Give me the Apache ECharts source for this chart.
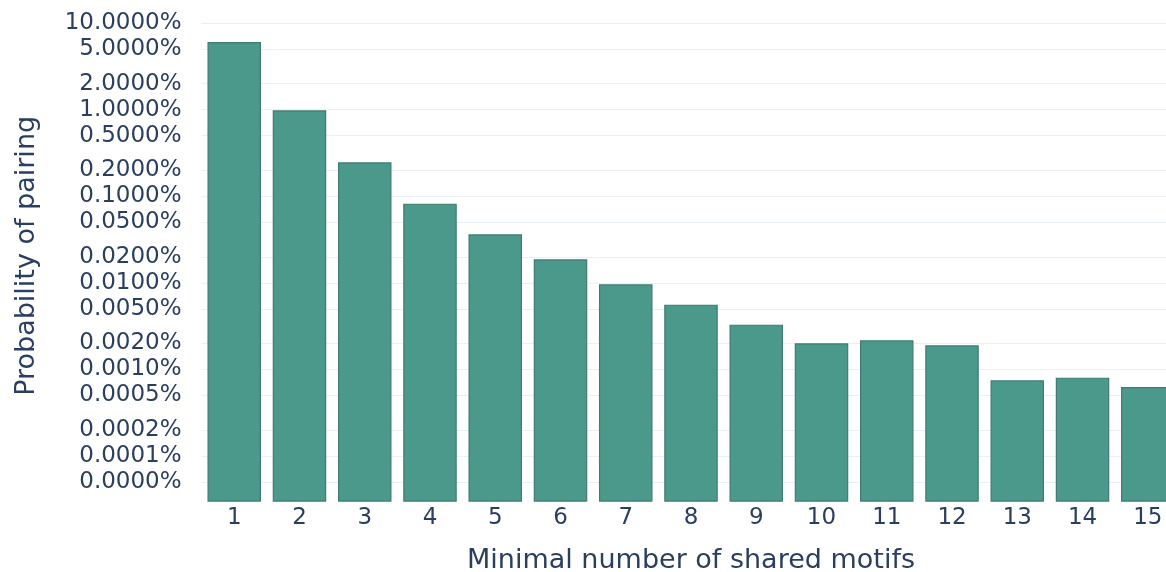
<!DOCTYPE html>
<html>
<head>
<meta charset="utf-8">
<title>Probability of pairing by shared motifs</title>
<script src="https://cdn.jsdelivr.net/npm/echarts@6/dist/echarts.min.js"></script>
<style>
  html, body { margin: 0; padding: 0; background: #ffffff; }
  #chart { width: 1166px; height: 572px; }
</style>
</head>
<body>
<div id="chart"></div>
<script>
// Minimal number of shared motifs (x categories)
const categories = ['1', '2', '3', '4', '5', '6', '7', '8', '9', '10', '11', '12', '13', '14', '15'];

// Probability of pairing, as a fraction (plotted on a log scale)
const probability = [
  0.0604, 0.00981, 0.00246, 0.000821, 0.000363, 0.000187, 0.0000961, 0.0000560,
  0.0000329, 0.0000200, 0.0000217, 0.0000190, 0.00000748, 0.00000804, 0.00000626
];

// Log-axis tick positions (fractions) and their printed labels
const tickValues = [
  0.1, 0.05, 0.02, 0.01, 0.005, 0.002, 0.001, 0.0005, 0.0002, 0.0001,
  0.00005, 0.00002, 0.00001, 0.000005, 0.000002, 0.000001, 0.0000005
];
const tickLabels = [
  '10.0000%', '5.0000%', '2.0000%', '1.0000%', '0.5000%', '0.2000%', '0.1000%', '0.0500%',
  '0.0200%', '0.0100%', '0.0050%', '0.0020%', '0.0010%', '0.0005%', '0.0002%', '0.0001%', '0.0000%'
];

// Visible range of the log axis (fractions)
const rangeMin = 2.97e-7;
const rangeMax = 0.1413;

const log10 = Math.log10;
const logTicks = tickValues.map(log10);
const yMin = log10(rangeMin);
const yMax = log10(rangeMax);

function labelFor(v) {
  let best = 0, bestD = Infinity;
  logTicks.forEach((t, i) => {
    const d = Math.abs(t - v);
    if (d < bestD) { bestD = d; best = i; }
  });
  return tickLabels[best];
}

const textColor = '#2a3f5f';
const fontFamily = '"DejaVu Sans", Verdana, sans-serif';

const chart = echarts.init(document.getElementById('chart'), null, { renderer: 'canvas' });

chart.setOption({
  animation: false,
  backgroundColor: '#ffffff',
  textStyle: { fontFamily: fontFamily, color: textColor },
  grid: {
    left: 201.6,
    width: 978.8,
    top: 10,
    bottom: 70.3,
    containLabel: false,
    outerBoundsMode: 'none'
  },
  xAxis: {
    type: 'category',
    data: categories,
    name: 'Minimal number of shared motifs',
    nameLocation: 'middle',
    nameGap: 46,
    nameTextStyle: { fontSize: 27, color: textColor, fontFamily: fontFamily },
    axisLine: { show: false },
    axisTick: { show: false },
    axisLabel: { fontSize: 23, color: textColor, fontFamily: fontFamily, margin: 5 },
    splitLine: { show: false }
  },
  yAxis: {
    type: 'value',
    min: yMin,
    max: yMax,
    startValue: yMin,
    name: 'Probability of pairing',
    nameLocation: 'middle',
    nameGap: 161,
    nameTextStyle: { fontSize: 27, color: textColor, fontFamily: fontFamily },
    axisLine: { show: false },
    axisTick: { show: false, customValues: logTicks },
    axisLabel: {
      customValues: logTicks,
      fontSize: 23,
      color: textColor,
      fontFamily: fontFamily,
      margin: 20,
      formatter: labelFor
    },
    splitLine: { show: true, lineStyle: { color: '#ebf0f8', width: 1 } }
  },
  series: [{
    type: 'bar',
    data: probability.map(log10),
    barCategoryGap: '18%',
    itemStyle: {
      color: '#4b998b',
      borderColor: '#3f7b71',
      borderWidth: 1.2
    },
    emphasis: { disabled: true }
  }]
});
</script>
</body>
</html>
